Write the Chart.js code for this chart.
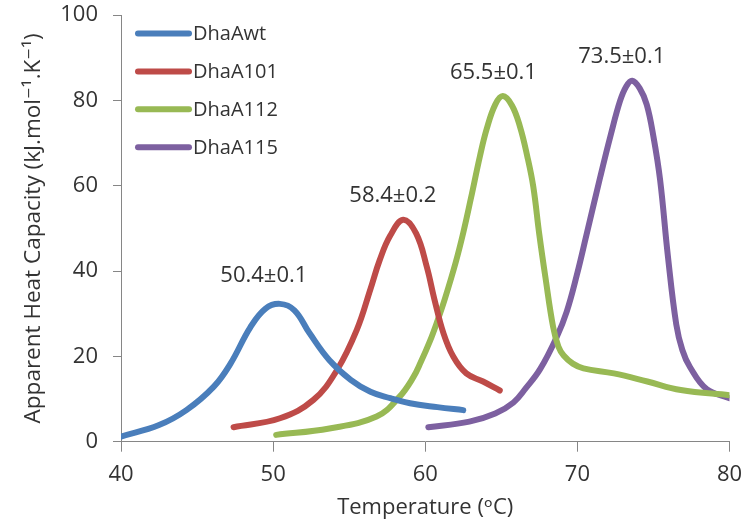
<!DOCTYPE html>
<html>
<head>
<meta charset="utf-8">
<script src="https://cdn.jsdelivr.net/npm/chart.js@4.4.1/dist/chart.umd.min.js"></script>
<style>
  html, body { margin: 0; padding: 0; background: #ffffff; }
  #wrap { width: 755px; height: 522px; position: relative; }
</style>
</head>
<body>
<div id="wrap"><canvas id="c"></canvas></div>
<script>
// ---- Data ----
const seriesNames = ['DhaAwt', 'DhaA101', 'DhaA112', 'DhaA115'];
const seriesColors = ['#4A7EBB', '#BE4B48', '#98B954', '#7D60A0'];

const wtX = [40, 42.5, 44.3, 46.1, 47.2, 48.5, 49.5, 50.45, 51.4, 52.4, 53.7, 55.1, 56.4, 57.7, 59.0, 60.8, 62.5];
const wtY = [1.2, 3.9, 7.4, 12.9, 18.3, 26.8, 31.2, 32.3, 30.8, 25.4, 19.1, 14.5, 11.7, 10.2, 9.0, 8.1, 7.4];

const a101X = [47.4, 50.45, 52.65, 54.2, 55.5, 56.4, 57.0, 57.7, 58.55, 59.4, 60.1, 60.6, 61.2, 61.85, 62.7, 63.8, 64.9];
const a101Y = [3.4, 5.5, 9.8, 16.8, 26.2, 35.8, 42.5, 48.3, 52.0, 48.8, 41.0, 33.4, 25.4, 19.9, 16.0, 14.1, 12.0];

const a112X = [50.2, 53.7, 56.8, 58.3, 59.2, 59.7, 60.3, 60.8, 61.3, 62.0, 62.5, 63.0, 63.6, 64.04, 64.6, 65.1, 65.7, 66.23, 66.7, 67.1, 67.5, 67.9, 68.4, 68.75, 69.1, 69.7, 70.4, 72.4, 74.6, 76.8, 80];
const a112Y = [1.6, 3.1, 5.9, 10.5, 15.0, 18.6, 23.5, 28.3, 33.6, 42.0, 49.0, 57.0, 67.0, 73.3, 79.0, 81.0, 78.8, 73.8, 67.0, 59.8, 48.5, 38.5, 27.0, 22.3, 20.2, 18.3, 17.2, 16.0, 14.1, 12.1, 10.9];

const a115X = [60.2, 62.9, 64.6, 65.8, 66.6, 67.55, 68.65, 69.3, 69.96, 70.6, 71.5, 72.2, 72.8, 73.2, 73.6, 74.1, 74.56, 75.0, 75.44, 75.95, 76.5, 76.9, 77.4, 78.5, 80];
const a115Y = [3.4, 4.7, 6.6, 9.2, 12.5, 17.0, 24.6, 30.5, 39.0, 48.5, 62.0, 72.0, 79.8, 83.2, 84.6, 82.8, 79.0, 71.5, 61.3, 43.5, 27.5, 21.5, 17.5, 12.3, 10.2];

const peakLabels = ['50.4±0.1', '58.4±0.2', '65.5±0.1', '73.5±0.1'];
const peakLabelX = [49.39, 57.87, 64.48, 72.92];
const peakLabelY = [38.9, 57.6, 86.5, 90.2];

const xTicks = [40, 50, 60, 70, 80];
const yTicks = [0, 20, 40, 60, 80, 100];

const xTitle = 'Temperature (ᵒC)';
const yTitle = 'Apparent Heat Capacity (kJ.mol⁻¹.K⁻¹)';

// ---- Build datasets ----
const xs = [wtX, a101X, a112X, a115X];
const ys = [wtY, a101Y, a112Y, a115Y];
const datasets = seriesNames.map((name, i) => ({
  label: name,
  data: xs[i].map((x, j) => ({ x: x, y: ys[i][j] })),
  borderColor: seriesColors[i],
  backgroundColor: seriesColors[i],
  borderWidth: 6,
  borderCapStyle: 'round',
  borderJoinStyle: 'round',
  pointRadius: 0,
  pointHoverRadius: 0,
  showLine: true,
  fill: false,
  tension: 0.4
}));

const FONT = "'Open Sans', 'DejaVu Sans', sans-serif";
const TEXT = '#333333';
const AXIS = '#868686';

const overlayPlugin = {
  id: 'overlay',
  afterDatasetsDraw(chart) {
    const ctx = chart.ctx;
    const xs = chart.scales.x, ys = chart.scales.y;
    ctx.save();
    // peak labels
    ctx.fillStyle = TEXT;
    ctx.font = '22px ' + FONT;
    ctx.textAlign = 'center';
    ctx.textBaseline = 'middle';
    peakLabels.forEach((t, i) => {
      ctx.fillText(t, xs.getPixelForValue(peakLabelX[i]), ys.getPixelForValue(peakLabelY[i]));
    });
    // legend
    const ca = chart.chartArea;
    const lx0 = ca.left + 17, lx1 = ca.left + 68;
    ctx.font = '20px ' + FONT;
    ctx.textAlign = 'left';
    chart.data.datasets.forEach((ds, i) => {
      const y = ca.top + 18.5 + i * 37.9;
      ctx.strokeStyle = ds.borderColor;
      ctx.lineWidth = 6;
      ctx.lineCap = 'round';
      ctx.beginPath();
      ctx.moveTo(lx0, y);
      ctx.lineTo(lx1, y);
      ctx.stroke();
      ctx.fillStyle = TEXT;
      ctx.fillText(ds.label, lx1 + 4, y + 1);
    });
    ctx.restore();
  }
};

new Chart(document.getElementById('c'), {
  type: 'scatter',
  data: { datasets: datasets },
  plugins: [overlayPlugin],
  options: {
    responsive: true,
    maintainAspectRatio: false,
    animation: false,
    layout: { padding: { left: 0, right: 25.5, top: 15, bottom: 0 } },
    plugins: {
      legend: { display: false },
      tooltip: { enabled: false }
    },
    scales: {
      x: {
        type: 'linear',
        min: 40, max: 80,
        afterBuildTicks: (s) => { s.ticks = xTicks.map(v => ({ value: v })); },
        afterFit: (s) => { s.height = 80.3; s.paddingLeft = 0; s.paddingRight = 0; },
        ticks: { color: TEXT, font: { family: FONT, size: 22 }, padding: 10 },
        grid: { drawOnChartArea: false, drawTicks: true, tickLength: 10, color: AXIS, tickColor: AXIS, lineWidth: 1 },
        border: { color: AXIS, width: 1 },
        title: { display: true, text: xTitle, color: TEXT, font: { family: FONT, size: 22 }, padding: { top: 0, bottom: 1 } }
      },
      y: {
        type: 'linear',
        min: 0, max: 100,
        afterBuildTicks: (s) => { s.ticks = yTicks.map(v => ({ value: v })); },
        afterFit: (s) => { s.width = 121; s.paddingTop = 0; s.paddingBottom = 0; },
        ticks: { color: TEXT, font: { family: FONT, size: 22 }, padding: 15 },
        grid: { drawOnChartArea: false, drawTicks: true, tickLength: 8, color: AXIS, tickColor: AXIS, lineWidth: 1 },
        border: { color: AXIS, width: 1 },
        title: { display: true, text: yTitle, color: TEXT, font: { family: FONT, size: 22.5 }, padding: { top: 20, bottom: 0 } }
      }
    }
  }
});
</script>
</body>
</html>
